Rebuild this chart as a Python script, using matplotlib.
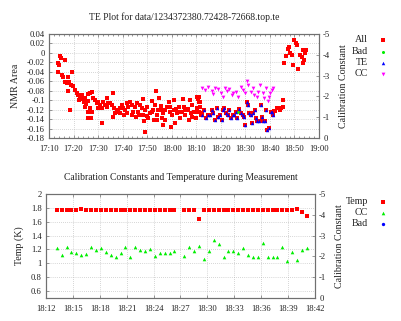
import matplotlib
matplotlib.use("Agg")
import matplotlib.pyplot as plt
from matplotlib.lines import Line2D

plt.rcParams['font.family'] = ['Liberation Serif', 'DejaVu Serif']
plt.rcParams['axes.unicode_minus'] = False

# ---------------- top chart data (time in minutes after 17:00) ----------------
all_t = [13.5, 14.1, 14.5, 14.9, 13.8, 15.2, 15.9, 16.5, 16.5, 17.2, 17.6, 18.1, 17.9, 18.6,
         19.0, 19.2, 19.9, 20.6, 21.3, 21.9, 22.4, 22.6, 23.3, 23.6, 24.4, 24.7, 24.7, 25.2,
         25.8, 25.8, 26.0, 26.0, 26.7, 26.7, 27.0, 27.4, 27.4, 28.0, 28.7, 29.4, 30.1, 30.1,
         30.8, 31.4, 31.5, 32.1, 32.8, 33.5, 33.5, 34.2, 34.9, 35.5, 36.2, 36.2, 36.6, 37.0,
         37.6, 38.2, 38.9,
         39.6, 40.3, 41.0, 41.6, 42.3, 43.0, 43.7, 44.4, 45.0, 45.7, 46.4, 47.1, 47.7, 48.4,
         49.1, 48.7, 49.1, 49.8, 50.5, 51.2, 51.8, 52.5, 53.2, 53.6, 53.9, 54.6, 55.0, 55.5,
         55.9, 56.6, 56.3, 57.3, 58.0, 58.7, 59.1, 59.7, 60.1, 60.8, 61.1, 61.5, 62.1, 62.8,
         63.5, 64.2, 64.6, 64.9, 65.6, 66.3, 67.0, 67.3, 67.9, 68.4, 69.0, 69.7, 70.4, 71.1,
         71.5,
         38.9, 40.6, 41.9, 43.7, 45.5, 46.8, 48.2, 49.8, 51.8, 52.8, 54.1, 55.5, 57.3, 59.3,
         61.8, 63.2, 65.5, 66.8, 68.2, 69.9, 71.6,
         70.2, 70.8, 71.3, 70.2, 71.3, 71.9, 72.5,
         101.7, 102.1, 103.0, 104.1, 104.4, 105.2, 105.5,
         109.9, 110.6, 110.9, 107.9, 107.2, 106.6, 108.2, 108.9, 112.3, 113.0, 113.6, 113.9,
         109.3, 111.6, 113.4, 105.7, 114.6, 114.3]
all_v = [-0.022, -0.026, -0.0065, -0.011, -0.040, -0.047, -0.052, -0.016, -0.061, -0.064,
         -0.050, -0.062, -0.080, -0.121, -0.068, -0.040, -0.070, -0.078, -0.084, -0.089,
         -0.100, -0.093, -0.089, -0.098, -0.103, -0.096, -0.115, -0.108, -0.087, -0.124,
         -0.101, -0.137, -0.085, -0.117, -0.137, -0.082, -0.126, -0.096, -0.100, -0.107,
         -0.103, -0.117, -0.110, -0.117, -0.148, -0.103, -0.110, -0.114, -0.096, -0.107,
         -0.105, -0.110, -0.084, -0.135, -0.117, -0.128, -0.124, -0.121, -0.117,
         -0.110, -0.117, -0.121, -0.107, -0.114, -0.103, -0.110, -0.124, -0.114, -0.107,
         -0.124, -0.110, -0.117, -0.098, -0.121, -0.145, -0.167, -0.114, -0.138, -0.128,
         -0.101, -0.121, -0.110, -0.081, -0.131, -0.121, -0.096, -0.121, -0.138, -0.128,
         -0.152, -0.142, -0.114, -0.103, -0.124, -0.156, -0.131, -0.121, -0.100, -0.149,
         -0.128, -0.114, -0.138, -0.124, -0.098, -0.114, -0.131, -0.121, -0.142, -0.100,
         -0.128, -0.110, -0.124, -0.138, -0.117, -0.093, -0.103,
         -0.128, -0.131, -0.128, -0.131, -0.135, -0.131, -0.131, -0.133, -0.124, -0.142,
         -0.142, -0.112, -0.121, -0.114, -0.119, -0.124, -0.121, -0.119, -0.135, -0.126,
         -0.115,
         -0.093, -0.097, -0.103, -0.121, -0.124, -0.131, -0.128,
         -0.122, -0.122, -0.117, -0.121, -0.117, -0.115, -0.100,
         0.027, 0.022, 0.017, 0.012, 0.008, -0.007, -0.001, -0.004, -0.004, -0.008, 0.006,
         -0.015, -0.026, -0.033, -0.022, -0.021, 0.006, 0.000]

te_t = [72.2, 73.2, 74.0, 74.9, 75.6, 76.3, 77.0, 77.6, 78.3, 79.0, 79.7, 80.4, 81.0, 81.3,
        82.1, 83.1, 83.5, 84.0, 84.8, 85.4, 86.2, 86.7, 87.5, 88.1, 88.9, 89.4, 89.8, 90.5,
        90.9, 91.6, 92.2, 92.6, 93.2, 93.9, 94.3, 94.9, 95.7, 96.2, 96.6, 97.3, 98.0, 98.4,
        98.9, 99.5, 100.3, 100.7, 101.4]
te_v = [-0.131, -0.121, -0.138, -0.131, -0.131, -0.121, -0.128, -0.142, -0.117, -0.135,
        -0.131, -0.142, -0.121, -0.117, -0.128, -0.131, -0.121, -0.138, -0.131, -0.131,
        -0.124, -0.138, -0.119, -0.128, -0.131, -0.135, -0.152, -0.103, -0.110, -0.128,
        -0.131, -0.149, -0.128, -0.121, -0.138, -0.145, -0.145, -0.110, -0.135, -0.145,
        -0.145, -0.121, -0.163, -0.158, -0.126, -0.124, -0.131]

bad_t = [87.1]
bad_v = [-0.124]

cc_t = [72.2, 73.6, 74.9, 76.3, 77.0, 77.6, 79.0, 80.0, 81.0, 81.7, 82.7, 83.5, 84.4, 85.1,
        86.2, 87.1, 88.1, 88.9, 89.8, 90.5, 91.2, 92.2, 93.0, 93.6, 94.6, 95.3, 95.9, 97.0,
        97.6, 98.4, 99.3, 99.7, 100.0, 100.7, 101.4]
cc_v = [-2.39, -2.31, -2.44, -2.28, -2.12, -2.39, -2.34, -2.15, -1.99, -2.39, -2.28, -2.34,
        -2.07, -2.15, -2.21, -1.99, -2.44, -2.31, -2.15, -2.74, -2.55, -2.23, -2.39, -2.07,
        -1.99, -2.23, -2.55, -2.18, -1.94, -2.39, -1.78, -1.99, -2.18, -2.31, -2.39]

top_xticks = [10, 20, 30, 40, 50, 60, 70, 80, 90, 100, 110, 120]
top_xlabels = ['17:10', '17:20', '17:30', '17:40', '17:50', '18:00', '18:10', '18:20',
               '18:30', '18:40', '18:50', '19:00']
top_yticks = [-0.18, -0.16, -0.14, -0.12, -0.1, -0.08, -0.06, -0.04, -0.02, 0, 0.02, 0.04]
top_ylabels = ['-0.18', '-0.16', '-0.14', '-0.12', '-0.1', '-0.08', '-0.06', '-0.04',
               '-0.02', '0', '0.02', '0.04']
cal_ticks = [0, -1, -2, -3, -4, -5]
cal_labels = ['0', '-1', '-2', '-3', '-4', '-5']

# ---------------- bottom chart data (time in minutes after 18:00) ----------------
temp_t = [13.20, 13.75, 14.29, 14.84, 15.39, 15.94, 16.48, 17.03, 17.58, 18.12, 18.67, 19.22,
          19.76, 20.31, 20.86, 21.41, 21.95, 22.50, 23.05, 23.59, 24.14, 24.69, 25.23, 25.78,
          26.33, 27.42, 27.97, 28.52, 29.06, 29.61, 30.16, 30.70, 31.25, 31.80, 32.35, 32.89,
          33.44, 33.99, 34.53, 35.08, 35.63, 36.17, 36.72, 37.27, 37.81, 38.36, 38.91, 39.46,
          40.00, 40.55, 41.10]
temp_v = [1.775, 1.773, 1.775, 1.774, 1.776, 1.777, 1.774, 1.772, 1.773, 1.775, 1.776, 1.774,
          1.775, 1.773, 1.775, 1.776, 1.774, 1.771, 1.773, 1.775, 1.774, 1.772, 1.775, 1.773,
          1.776, 1.772, 1.773, 1.776, 1.645, 1.775, 1.774, 1.776, 1.774, 1.775, 1.773, 1.775,
          1.776, 1.774, 1.773, 1.775, 1.776, 1.774, 1.775, 1.773, 1.775, 1.776, 1.774, 1.775,
          1.777, 1.735, 1.685]
cc2_v = [-2.41, -2.09, -2.46, -2.20, -2.17, -2.06, -2.11, -2.46, -2.33, -2.38, -2.22, -2.06,
         -1.96, -2.14, -2.43, -1.98, -2.44, -2.30, -2.24, -2.36, -2.03, -2.16, -2.16, -2.16,
         -2.28, -2.04, -2.44, -2.25, -2.49, -1.89, -2.25, -2.80, -2.61, -1.96, -2.24, -2.27,
         -2.16, -2.40, -2.06, -1.96, -1.96, -2.63, -1.96, -1.98, -1.98, -2.46, -1.77, -2.20,
         -1.84, -2.32, -2.41]

bot_xticks = [12, 15, 18, 21, 24, 27, 30, 33, 36, 39, 42]
bot_xlabels = ['18:12', '18:15', '18:18', '18:21', '18:24', '18:27', '18:30', '18:33',
               '18:36', '18:39', '18:42']
bot_yticks = [0.6, 0.8, 1.0, 1.2, 1.4, 1.6, 1.8, 2.0]
bot_ylabels = ['0.6', '0.8', '1', '1.2', '1.4', '1.6', '1.8', '2']

RED = '#ff0000'
GREEN = '#00ee00'
BLUE = '#0000ff'
MAG = '#ff00ff'
FRAME = '#707070'
TXT = '#222222'
FS = 6.2
LFS = 7.2

fig = plt.figure(figsize=(4.02, 3.21), dpi=100)
W, H = 402.0, 321.0


def style(ax):
    for s in ax.spines.values():
        s.set_color(FRAME)
        s.set_linewidth(0.8)
    ax.tick_params(direction='in', length=2.5, width=0.5, color=FRAME, labelsize=FS,
                   labelcolor=TXT, pad=3)
    ax.tick_params(which='minor', direction='in', length=1.5, width=0.5, color=FRAME)
    ax.grid(True, which='major', color='#b0b0b0', linestyle=(0, (1, 2)), linewidth=0.5)


# ---------------- top axes ----------------
ax1 = fig.add_axes([49 / W, 1 - 138 / H, 270 / W, 104 / H])
ax1.set_xlim(10, 120)
ax1.set_ylim(-0.18, 0.04)
ax1.plot(all_t, all_v, 's', color=RED, ms=3.1, mew=0, linestyle='none')
ax1.plot(te_t, te_v, 's', color=RED, ms=3.1, mew=0, linestyle='none')
ax1.plot(te_t, te_v, '^', color=BLUE, ms=2.5, mew=0, linestyle='none')
ax1.plot(bad_t, bad_v, 'o', color=GREEN, ms=2.0, mew=0, linestyle='none')
ax1.set_xticks(top_xticks)
ax1.set_xticklabels(top_xlabels)
ax1.set_xticks([t for t in range(10, 121, 2)], minor=True)
ax1.set_yticks(top_yticks)
ax1.set_yticklabels(top_ylabels)
ax1.tick_params(top=True, which='both')
style(ax1)
ax1.tick_params(axis='x', pad=5)
ax1.set_ylabel('NMR Area', fontsize=LFS, color=TXT, labelpad=5)
ax1.set_title('TE Plot for data/1234372380.72428-72668.top.te', fontsize=6.9,
              color=TXT, pad=10)

ax1r = ax1.twinx()
ax1r.set_ylim(0, -5)
ax1r.plot(cc_t, cc_v, 'v', color=MAG, ms=2.7, mew=0, linestyle='none')
ax1r.set_yticks(cal_ticks)
ax1r.set_yticklabels(cal_labels)
style(ax1r)
ax1r.grid(False)
ax1r.set_ylabel('Calibration Constant', fontsize=LFS, color=TXT, labelpad=6)

# ---------------- bottom axes ----------------
ax2 = fig.add_axes([46 / W, 1 - 298 / H, 269 / W, 104 / H])
ax2.set_xlim(12, 42)
ax2.set_ylim(0.5, 2.0)
ax2.plot(temp_t, temp_v, 's', color=RED, ms=3.2, mew=0, linestyle='none')
ax2.set_xticks(bot_xticks)
ax2.set_xticklabels(bot_xlabels)
ax2.set_yticks(bot_yticks)
ax2.set_yticklabels(bot_ylabels)
ax2.tick_params(top=True)
style(ax2)
ax2.tick_params(axis='x', pad=5)
ax2.set_ylabel('Temp (K)', fontsize=LFS, color=TXT, labelpad=5)
ax2.set_title('Calibration Constants and Temperature during Measurement', fontsize=6.9,
              color=TXT, pad=10)

ax2r = ax2.twinx()
ax2r.set_ylim(0, -5)
ax2r.plot(temp_t, cc2_v, '^', color=GREEN, ms=2.6, mew=0, linestyle='none')
ax2r.set_yticks(cal_ticks)
ax2r.set_yticklabels(cal_labels)
style(ax2r)
ax2r.grid(False)
ax2r.set_ylabel('Calibration Constant', fontsize=LFS, color=TXT, labelpad=6)


# ---------------- legends ----------------
def legend_entry(label, ypx, marker, color, ms):
    fig.text(368 / W, 1 - ypx / H, label, ha='right', va='center', fontsize=LFS,
             color=TXT)
    fig.add_artist(Line2D([383 / W], [1 - ypx / H], transform=fig.transFigure,
                          marker=marker, color=color, ms=ms, mew=0, linestyle='none'))


legend_entry('All', 40, 's', RED, 3.1)
legend_entry('Bad', 51.5, 'o', GREEN, 2.2)
legend_entry('TE', 62.5, '^', BLUE, 2.5)
legend_entry('CC', 74, 'v', MAG, 2.7)

legend_entry('Temp', 201.5, 's', RED, 3.2)
legend_entry('CC', 212.5, '^', GREEN, 2.6)
legend_entry('Bad', 223.5, 'o', BLUE, 2.4)

fig.savefig('out.png', dpi=100)
